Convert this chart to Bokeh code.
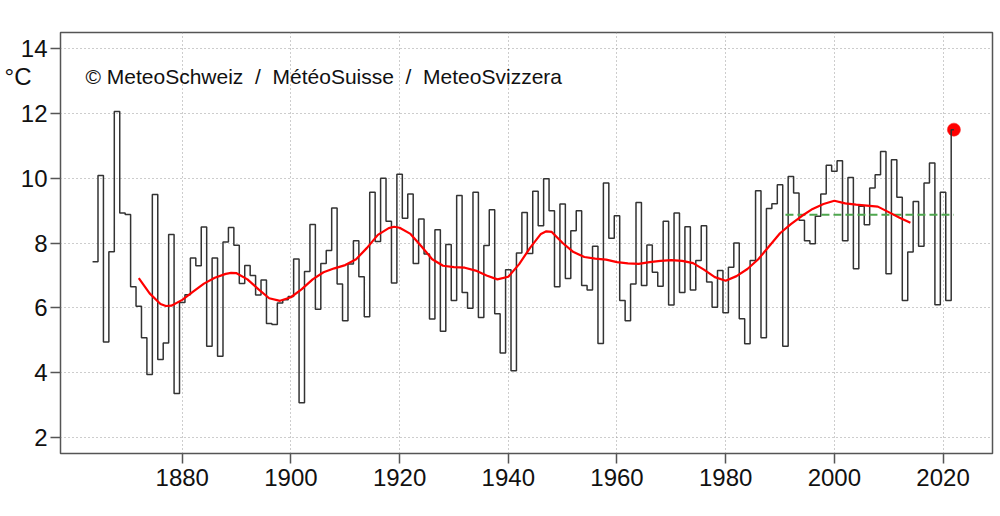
import numpy as np
from bokeh.plotting import figure
from bokeh.models import Range1d, FixedTicker, Label, LinearAxis
from bokeh.embed import file_html
from bokeh.resources import INLINE

# ---------------- data ----------------
years = list(range(1864, 2023))
temps = [
    7.42, 10.08, 4.95, 7.73, 12.05, 8.92, 8.88, 6.65, 6.05, 5.08,      # 1864-1873
    3.95, 9.49, 4.41, 4.92, 8.26, 3.37, 6.17, 6.41, 7.54, 7.30,        # 1874-1883
    8.49, 4.82, 7.54, 4.51, 8.03, 8.48, 7.93, 6.75, 7.31, 7.00,        # 1884-1893
    6.40, 6.86, 5.52, 5.49, 6.15, 6.25, 6.35, 7.51, 3.08, 7.12,        # 1894-1903
    8.57, 5.96, 7.37, 7.77, 9.08, 6.74, 5.61, 7.35, 8.07, 6.96,        # 1904-1913
    5.73, 9.56, 8.05, 9.99, 8.67, 6.77, 10.12, 8.76, 9.51, 7.37,       # 1914-1923
    8.74, 7.66, 5.66, 8.41, 5.28, 7.95, 6.23, 9.46, 6.48, 5.99,        # 1924-1933
    9.56, 5.71, 7.92, 9.02, 5.82, 4.61, 7.18, 4.07, 7.69, 8.94,        # 1934-1943
    7.68, 9.59, 8.53, 9.98, 8.99, 6.65, 9.20, 6.91, 8.38, 8.99,        # 1944-1953
    6.69, 6.55, 7.90, 4.91, 9.85, 8.15, 8.84, 6.23, 5.61, 6.74,        # 1954-1963
    9.25, 6.69, 7.94, 7.10, 6.67, 8.67, 6.09, 8.92, 6.48, 8.50,        # 1964-1973
    6.55, 7.46, 8.53, 6.80, 6.02, 7.15, 5.85, 7.25, 8.00, 5.67,        # 1974-1983
    4.90, 7.46, 9.61, 5.08, 9.06, 9.21, 9.79, 4.82, 10.05, 9.54,       # 1984-1993
    8.70, 8.07, 7.98, 8.82, 9.51, 10.39, 10.21, 10.53, 8.07, 10.02,    # 1994-2003
    7.21, 9.13, 8.56, 9.69, 10.10, 10.82, 7.05, 10.56, 9.41, 6.23,     # 2004-2013
    7.72, 9.28, 7.90, 9.85, 10.46, 6.10, 9.56, 6.23, 11.49,            # 2014-2022
]

smooth_years = [1872, 1874, 1876, 1877, 1878, 1880, 1882, 1884, 1886, 1888,
                1889, 1890, 1892, 1894, 1896, 1898, 1900, 1902, 1904, 1906,
                1908, 1910, 1912, 1914, 1916, 1918, 1919, 1920, 1922, 1924,
                1926, 1928, 1930, 1932, 1934, 1936, 1938, 1940, 1942, 1944,
                1946, 1947, 1948, 1950, 1952, 1954, 1956, 1958, 1960, 1962,
                1964, 1966, 1968, 1970, 1972, 1974, 1976, 1978, 1980, 1982,
                1984, 1986, 1988, 1990, 1992, 1994, 1996, 1998, 2000, 2002,
                2004, 2006, 2008, 2010, 2012, 2014]
smooth_vals = [6.92, 6.45, 6.12, 6.06, 6.07, 6.25, 6.50, 6.75, 6.93, 7.05,
               7.08, 7.07, 6.88, 6.58, 6.30, 6.22, 6.33, 6.58, 6.88, 7.10,
               7.22, 7.32, 7.50, 7.85, 8.25, 8.46, 8.50, 8.47, 8.28, 7.90,
               7.50, 7.30, 7.26, 7.24, 7.15, 7.00, 6.88, 6.96, 7.35, 7.85,
               8.28, 8.36, 8.34, 8.00, 7.72, 7.57, 7.52, 7.49, 7.41, 7.37,
               7.36, 7.41, 7.45, 7.47, 7.45, 7.38, 7.18, 6.95, 6.84, 6.98,
               7.20, 7.50, 7.90, 8.30, 8.58, 8.83, 9.05, 9.20, 9.30, 9.22,
               9.18, 9.15, 9.12, 8.95, 8.78, 8.62]

norm_years = [1991, 2022]
norm_value = 8.87

x_ticks = [1880, 1900, 1920, 1940, 1960, 1980, 2000, 2020]
y_ticks = [2, 4, 6, 8, 10, 12, 14]
unit_label = "\u00b0C"
unit_label_pos = 13.12

FONT = "Liberation Sans"

# ---------------- figure ----------------
p = figure(width=994, height=510, output_backend="svg", toolbar_location=None,
           x_range=Range1d(1857.6, 2029.1), y_range=Range1d(1.52, 14.48),
           min_border_left=60, min_border_right=2, min_border_top=32,
           min_border_bottom=57)
p.background_fill_color = "white"
p.border_fill_color = "white"
p.outline_line_color = "#555555"
p.outline_line_width = 1.5

for ax, ticks in ((p.xaxis, x_ticks), (p.yaxis, y_ticks)):
    ax.ticker = FixedTicker(ticks=ticks)
    ax.axis_line_color = None
    ax.major_tick_line_color = "#555555"
    ax.major_tick_line_width = 1.5
    ax.major_tick_out = 10
    ax.major_tick_in = 0
    ax.minor_tick_line_color = None
    ax.major_label_text_font = FONT
    ax.major_label_text_font_size = "24px"
    ax.major_label_text_color = "#111111"
p.xaxis.major_label_standoff = 5
p.yaxis.major_label_standoff = 3

# unit label (°C) as a tick-less extra axis on the left
unit_axis = LinearAxis(ticker=FixedTicker(ticks=[unit_label_pos]),
                       major_label_overrides={unit_label_pos: unit_label},
                       axis_line_color=None, major_tick_line_color=None,
                       minor_tick_line_color=None,
                       major_tick_out=0, major_tick_in=0,
                       major_label_standoff=-14,
                       major_label_text_font=FONT,
                       major_label_text_font_size="24px",
                       major_label_text_color="#111111")
p.add_layout(unit_axis, "left")

for g in (p.xgrid, p.ygrid):
    g.grid_line_color = "#9a9a9a"
    g.grid_line_dash = "1 3"
    g.grid_line_width = 1

# step line, each year a full-width segment centred on the year
yrs = np.array(years, dtype=float)
vals = np.array(temps, dtype=float)
left = yrs - 0.5
right = yrs + 0.5
right[-1] = yrs[-1]
xs = np.column_stack([left, right]).ravel()
ys = np.repeat(vals, 2)

# current-year point
p.scatter([years[-1]], [temps[-1]], size=13, fill_color="#ff0000",
          line_color="#ff2020", line_alpha=0.6)

p.line(xs, ys, line_color="#333333", line_width=1.5)

# 1991-2020 norm
p.line(norm_years, [norm_value, norm_value], line_color="#4ea64e",
       line_width=2, line_dash="8 4")

# smoothed series
p.line(smooth_years, smooth_vals, line_color="#ff0000", line_width=2.2)

p.add_layout(Label(x=1862.2, y=13.12, text="\u00a9 MeteoSchweiz \u00a0/\u00a0 M\u00e9t\u00e9oSuisse \u00a0/\u00a0 MeteoSvizzera",
                   text_font=FONT, text_font_size="21px", text_color="#111111",
                   text_baseline="middle", text_align="left"))

open("out.html", "w").write(file_html(p, INLINE))
